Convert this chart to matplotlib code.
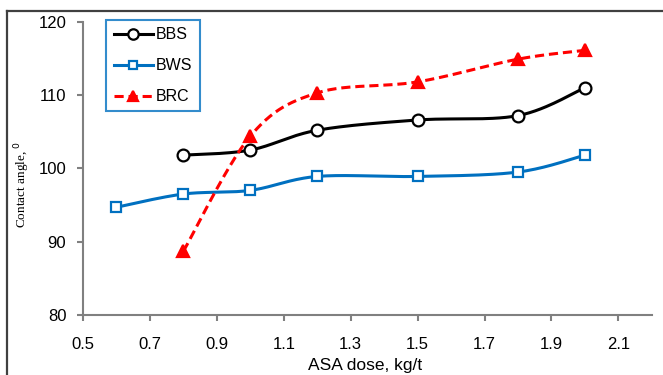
import numpy as np
import matplotlib
matplotlib.use("Agg")
import matplotlib.pyplot as plt
from matplotlib.lines import Line2D

BBS_X = [0.8, 1.0, 1.2, 1.5, 1.8, 2.0]
BBS_Y = [101.8, 102.5, 105.2, 106.6, 107.2, 111.0]
BWS_X = [0.6, 0.8, 1.0, 1.2, 1.5, 1.8, 2.0]
BWS_Y = [94.7, 96.5, 97.0, 98.9, 98.9, 99.5, 101.8]
BRC_X = [0.8, 1.0, 1.2, 1.5, 1.8, 2.0]
BRC_Y = [88.7, 104.4, 110.3, 111.8, 114.9, 116.1]
X_TICKS = [0.5, 0.7, 0.9, 1.1, 1.3, 1.5, 1.7, 1.9, 2.1]
Y_TICKS = [80, 90, 100, 110, 120]


def smooth(xs, ys, n=30):
    # Excel-style smoothed line (Catmull-Rom / cubic Bezier through the points)
    p = np.column_stack([xs, ys]).astype(float)
    out = []
    for i in range(len(p) - 1):
        p0 = p[i - 1] if i > 0 else p[i]
        p1, p2 = p[i], p[i + 1]
        p3 = p[i + 2] if i + 2 < len(p) else p[i + 1]
        c1 = p1 + (p2 - p0) / 6.0
        c2 = p2 - (p3 - p1) / 6.0
        t = np.linspace(0, 1, n)[:, None]
        seg = ((1 - t) ** 3) * p1 + 3 * ((1 - t) ** 2) * t * c1 + 3 * (1 - t) * t ** 2 * c2 + t ** 3 * p2
        out.append(seg if i == 0 else seg[1:])
    s = np.vstack(out)
    return s[:, 0], s[:, 1]


plt.rcParams["font.family"] = ["Liberation Sans", "DejaVu Sans"]

fig = plt.figure(figsize=(6.63, 3.75), dpi=100)
ax = fig.add_axes([0.1252, 0.16, 0.858, 0.782])

series = [
    ("BBS", BBS_X, BBS_Y, "black", "-", "o", 8.5, "none"),
    ("BWS", BWS_X, BWS_Y, "#0070C0", "-", "s", 7, "none"),
    ("BRC", BRC_X, BRC_Y, "red", "--", "^", 8.5, "red"),
]
handles = []
for name, xs, ys, color, ls, mk, ms, mfc in series:
    sx, sy = smooth(xs, ys)
    ax.plot(sx, sy, color=color, linestyle=ls, linewidth=2.2, dashes=(3, 1.6) if ls == "--" else (None, None), zorder=2)
    ax.plot(xs, ys, linestyle="none", marker=mk, markersize=ms, markerfacecolor="white" if mfc == "none" else mfc,
            markeredgecolor=color, markeredgewidth=1.6, zorder=3)
    h = Line2D([], [], color=color, linestyle=ls, linewidth=2.2, marker=mk, markersize=ms - 1,
               markerfacecolor="white" if mfc == "none" else mfc, markeredgecolor=color, markeredgewidth=1.6)
    if ls == "--":
        h.set_dashes((3, 1.6))
    handles.append(h)

leg = ax.legend(handles, ["BBS", "BWS", "BRC"], loc="upper left", bbox_to_anchor=(0.041, 1.006),
                fontsize=11.5, frameon=True, fancybox=False, handlelength=2.5, handletextpad=0.15,
                labelspacing=1.0, borderpad=0.45, borderaxespad=0)
leg.get_frame().set_edgecolor("#0070C0")
leg.get_frame().set_linewidth(1.5)

ax.set_xlim(0.5, 2.2)
ax.set_ylim(80, 120)
ax.set_xticks(X_TICKS)
ax.set_xticklabels([f"{v:.1f}" for v in X_TICKS])
ax.set_yticks(Y_TICKS)
for s in ["top", "right"]:
    ax.spines[s].set_visible(False)
for s in ["left", "bottom"]:
    ax.spines[s].set_color("#808080")
    ax.spines[s].set_linewidth(1.5)
ax.tick_params(axis="both", direction="out", length=4, width=1.5, color="#808080", labelsize=12)
ax.tick_params(axis="x", pad=12)
ax.tick_params(axis="y", pad=8)

ax.set_xlabel("ASA dose, kg/t", fontsize=12.5)
ax.xaxis.set_label_coords(0.496, -0.148)
ax.set_ylabel("Contact angle, $^0$", fontsize=9.5, family=["Liberation Serif", "DejaVu Serif"])
ax.yaxis.set_label_coords(-0.089, 0.447)

# outer chart frame (only top and left edges visible in the crop)
fig.add_artist(Line2D([7 / 663, 1.0], [1 - 11 / 375, 1 - 11 / 375], transform=fig.transFigure, color="#404040", linewidth=1.6))
fig.add_artist(Line2D([7 / 663, 7 / 663], [0, 1 - 11 / 375], transform=fig.transFigure, color="#404040", linewidth=1.6))

fig.savefig("out.png", dpi=100)
